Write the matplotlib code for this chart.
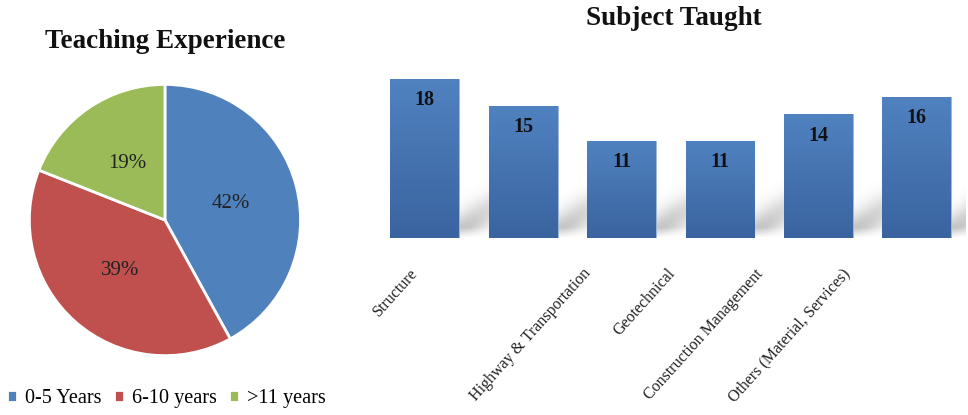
import numpy as np
import matplotlib.pyplot as plt
from matplotlib.colors import LinearSegmentedColormap

plt.rcParams['font.family'] = ['Liberation Serif', 'DejaVu Serif']

# pie data
exp_labels = ['0-5 Years', '6-10 years', '>11 years']
exp_share = [42, 39, 19]
exp_colors = ['#4F81BD', '#C0504D', '#9BBB59']

# bar data
counts = [18, 15, 11, 11, 14, 16]
subject_labels = ['Structure', 'Highway & Transportation', 'Geotechnical',
                  'Construction Management', 'Others (Material, Services)']
label_pos = [-0.16, 1.60, 2.46, 3.35, 4.23]

fig = plt.figure(figsize=(9.68, 4.15), dpi=100)

# ---- pie ----
ax1 = fig.add_axes([0.0289, 0.1398, 0.283, 0.660])
wedges, texts, autotexts = ax1.pie(exp_share, colors=exp_colors, startangle=90,
                                   counterclock=False, autopct='%d%%', pctdistance=0.5,
                                   wedgeprops=dict(edgecolor='white', linewidth=2),
                                   textprops=dict(fontsize=15, color='#222222'))
ax1.set_aspect('equal')
ax1.set_xlim(-1.01, 1.01)
ax1.set_ylim(-1.01, 1.01)
fig.text(0.171, 0.900, 'Teaching Experience', ha='center', va='center',
         fontsize=19.5, fontweight='bold', color='#111111')
fig.legend(wedges, exp_labels, loc='lower left', bbox_to_anchor=(-0.012, -0.027),
           ncol=3, frameon=False, fontsize=14.6, handlelength=0.5, handleheight=0.5,
           handletextpad=0.4, columnspacing=0.6)

# ---- bars ----
ax2 = fig.add_axes([0.388, 0.4265, 0.61, 0.4255])
x = np.arange(len(counts))

bar_cmap = LinearSegmentedColormap.from_list('bar', ['#3A64A0', '#5082C0'])
bars = ax2.bar(x, counts, width=0.7, color='#4A78B4', edgecolor='#9DB8DD',
               linewidth=0.6, zorder=2)

# soft diagonal shadow from the foot of each bar
gx = np.linspace(0, 1, 160)
gy = np.linspace(0, 1, 120)
GX, GY = np.meshgrid(gx, gy)
for b in bars:
    xr = b.get_x() + b.get_width()
    x0, x1 = xr - 0.1, xr + 0.5
    y0, y1 = 0, 7.0
    px = x0 + GX * (x1 - x0)
    py = y0 + GY * (y1 - y0)
    line_y = (px - xr) * 9.0 + 0.8
    band = np.exp(-((py - line_y) / 2.2) ** 2)
    fade = np.clip(1 - py / 7.0, 0, 1) ** 0.9 * np.clip(py / 1.2, 0, 1)
    rgba = np.zeros(GX.shape + (4,))
    rgba[..., :3] = 0.55
    rgba[..., 3] = band * fade * 0.6
    ax2.imshow(rgba, origin='lower', aspect='auto', extent=(x0, x1, y0, y1),
               zorder=1, interpolation='bilinear')

for b, v in zip(bars, counts):
    im = ax2.imshow(np.linspace(0, 1, 100).reshape(-1, 1), cmap=bar_cmap,
                    aspect='auto', origin='lower',
                    extent=(b.get_x(), b.get_x() + b.get_width(), 0, v), zorder=3)
    im.set_clip_path(b)
    ax2.text(b.get_x() + b.get_width() / 2, v - 2.4, str(v), ha='center', va='center',
             fontsize=14.5, fontweight='bold', color='#111111', zorder=4)

ax2.set_xlim(-0.5, 5.5)
ax2.set_ylim(0, 20)
ax2.set_xticks(label_pos)
ax2.set_xticklabels(subject_labels, rotation=48, ha='right', va='top',
                    rotation_mode='anchor', fontsize=11.5, color='#222222')
ax2.tick_params(axis='x', length=0, pad=20)
ax2.set_yticks([])
for s in ax2.spines.values():
    s.set_visible(False)
fig.text(0.696, 0.955, 'Subject Taught', ha='center', va='center',
         fontsize=19.5, fontweight='bold', color='#111111')

fig.savefig('out.png', dpi=100)
